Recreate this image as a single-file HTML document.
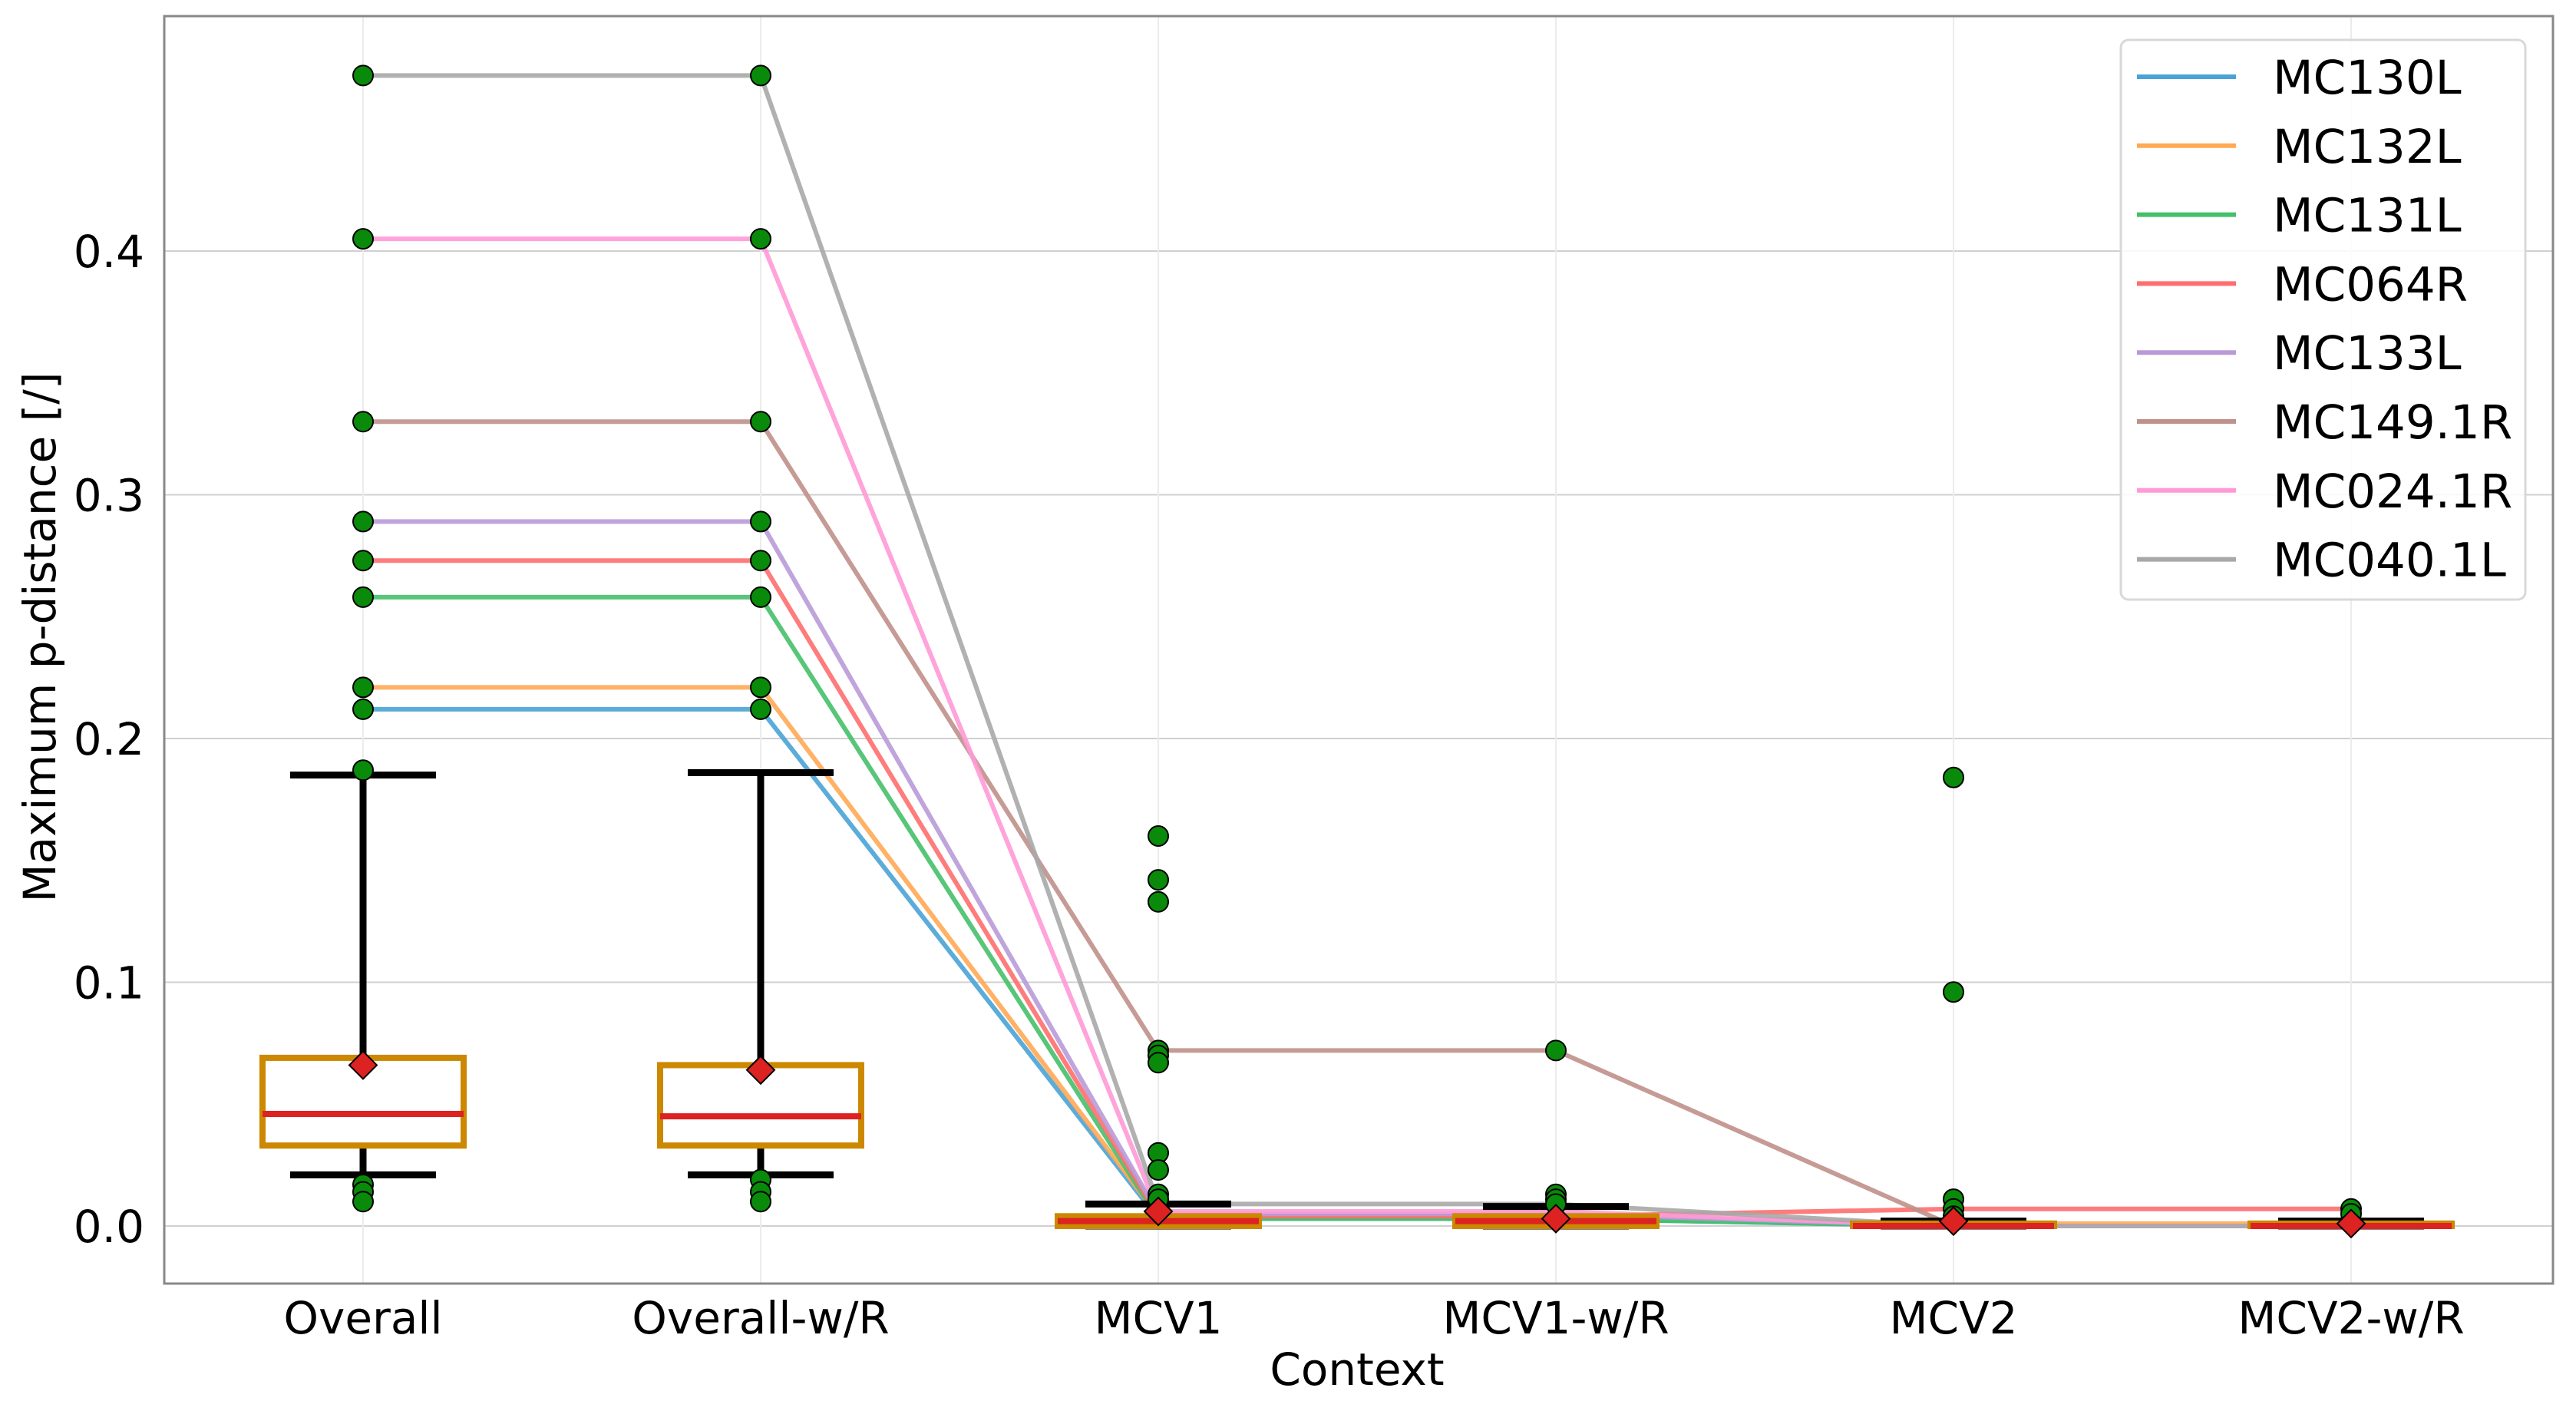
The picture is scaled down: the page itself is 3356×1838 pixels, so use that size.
<!DOCTYPE html>
<html><head><meta charset="utf-8"><style>
html,body{margin:0;padding:0;background:#fff;}
svg{display:block;font-family:"DejaVu Sans","Liberation Sans",sans-serif;}
</style></head><body>
<svg id="chart" width="3356" height="1838" viewBox="0 0 3356 1838" xmlns="http://www.w3.org/2000/svg">
<g id="grid"></g>
<g id="series"></g>
<g id="boxes"></g>
<g id="axes"></g>
<g id="legend"></g>
</svg>
<script>
const categories=["Overall","Overall-w/R","MCV1","MCV1-w/R","MCV2","MCV2-w/R"];
const yTicks=[0,0.1,0.2,0.3,0.4];
const yTickLabels=["0.0","0.1","0.2","0.3","0.4"];
const seriesNames=["MC130L","MC132L","MC131L","MC064R","MC133L","MC149.1R","MC024.1R","MC040.1L"];
const seriesColors=["#4aa3d6","#ffaa55","#45c06a","#ff6e6e","#b99ad8","#c0908a","#ff9ad6","#a8a8a8"];
const s_MC130L=[0.212,0.212,0.003,0.003,0,0];
const s_MC132L=[0.221,0.221,0.004,0.004,0.001,0.001];
const s_MC131L=[0.258,0.258,0.003,0.003,0,0];
const s_MC064R=[0.273,0.273,0.004,0.004,0.007,0.007];
const s_MC133L=[0.289,0.289,0.005,0.005,0,0];
const s_MC149R=[0.330,0.330,0.072,0.072,0,0];
const s_MC024R=[0.405,0.405,0.006,0.006,0,0];
const s_MC040L=[0.472,0.472,0.009,0.009,0,0];
const seriesValues=[s_MC130L,s_MC132L,s_MC131L,s_MC064R,s_MC133L,s_MC149R,s_MC024R,s_MC040L];
const boxQ1=[0.033,0.033,0,0,0,0];
const boxQ3=[0.069,0.066,0.004,0.004,0.001,0.001];
const boxMedian=[0.046,0.045,0.002,0.002,0,0];
const boxMean=[0.066,0.064,0.006,0.003,0.002,0.001];
const whiskLow=[0.021,0.021,0,0,0,0];
const whiskHigh=[0.185,0.186,0.009,0.008,0.002,0.002];
const outliers=[
 [0.472,0.405,0.330,0.289,0.273,0.258,0.221,0.212,0.187,0.017,0.014,0.010],
 [0.472,0.405,0.330,0.289,0.273,0.258,0.221,0.212,0.019,0.014,0.010],
 [0.160,0.142,0.133,0.072,0.070,0.067,0.030,0.023,0.013,0.011],
 [0.072,0.013,0.011,0.009],
 [0.184,0.096,0.011,0.007,0.004],
 [0.007,0.005]
];
const NS="http://www.w3.org/2000/svg";
const X0=214,X1=3326,Y0=21,Y1=1672;
const xPos=i=>473+i*518;
const yPos=v=>1597-v*3175;
function mk(parent,tag,attrs,text){const e=document.createElementNS(NS,tag);for(const k in attrs)e.setAttribute(k,attrs[k]);if(text!==undefined)e.textContent=text;document.getElementById(parent).appendChild(e);return e;}
yTicks.forEach((t,i)=>{
 const g=mk("grid","line",{x1:X0,x2:X1,y1:yPos(t),y2:yPos(t),stroke:"#d0d0d0","stroke-width":2});
 
 
 const tl=mk("axes","text",{x:188,y:yPos(t)+21,"text-anchor":"end","font-size":58,fill:"#000"},yTickLabels[i]);
 
 
});
categories.forEach((c,i)=>{
 const g=mk("grid","line",{x1:xPos(i),x2:xPos(i),y1:Y0,y2:Y1,stroke:"#ececec","stroke-width":2});
 
 
 const tl=mk("axes","text",{x:xPos(i),y:1737,"text-anchor":"middle","font-size":58,fill:"#000"},c);
 
 
});
seriesValues.forEach((vals,si)=>{
 const pts=vals.map((v,i)=>xPos(i)+","+yPos(v)).join(" ");
 const p=mk("series","polyline",{points:pts,fill:"none",stroke:seriesColors[si],"stroke-width":6,"stroke-opacity":0.9});
 
 
});
categories.forEach((c,i)=>{
 const x=xPos(i),hw=131,cw=95;
 const w=mk("boxes","line",{x1:x,x2:x,y1:yPos(whiskLow[i]),y2:yPos(whiskHigh[i]),stroke:"#000","stroke-width":9});
 
 
 [whiskLow[i],whiskHigh[i]].forEach(v=>{
  const cap=mk("boxes","line",{x1:x-cw,x2:x+cw,y1:yPos(v),y2:yPos(v),stroke:"#000","stroke-width":9});
  
  
 });
 const r=mk("boxes","rect",{x:x-hw,y:yPos(boxQ3[i]),width:2*hw,height:Math.max(2,yPos(boxQ1[i])-yPos(boxQ3[i])),fill:"#fff",stroke:"#cc8800","stroke-width":8});
 
 
 const m=mk("boxes","line",{x1:x-hw,x2:x+hw,y1:yPos(boxMedian[i]),y2:yPos(boxMedian[i]),stroke:"#dd2222","stroke-width":8});
 
 
 outliers[i].forEach(v=>{
  const o=mk("boxes","circle",{cx:x,cy:yPos(v),r:13,fill:"#0a8a0a",stroke:"#000","stroke-width":2});
  
  
 });
 const my=yPos(boxMean[i]),d=18;
 const mn=mk("boxes","polygon",{points:`${x},${my-d} ${x+d},${my} ${x},${my+d} ${x-d},${my}`,fill:"#dd2222",stroke:"#000","stroke-width":2});
 
 
});
const sp=mk("axes","rect",{x:X0,y:Y0,width:X1-X0,height:Y1-Y0,fill:"none",stroke:"#888","stroke-width":3});


const yt=mk("axes","text",{x:0,y:0,"text-anchor":"middle","font-size":58,fill:"#000",transform:"translate(72,830) rotate(-90)"},"Maximum p-distance [/]");


const xt=mk("axes","text",{x:1768,y:1804,"text-anchor":"middle","font-size":58,fill:"#000"},"Context");


const lb=mk("legend","rect",{x:2763,y:52,width:527,height:729,rx:10,fill:"#fff","fill-opacity":0.85,stroke:"#d8d8d8","stroke-width":3});


seriesNames.forEach((n,i)=>{
 const y=100+i*89.8;
 const l=mk("legend","line",{x1:2784,x2:2913,y1:y,y2:y,stroke:seriesColors[i],"stroke-width":6});
 
 
 const t=mk("legend","text",{x:2961,y:y+22,"font-size":61,fill:"#000"},n);
 
 
});
</script>
</body></html>
